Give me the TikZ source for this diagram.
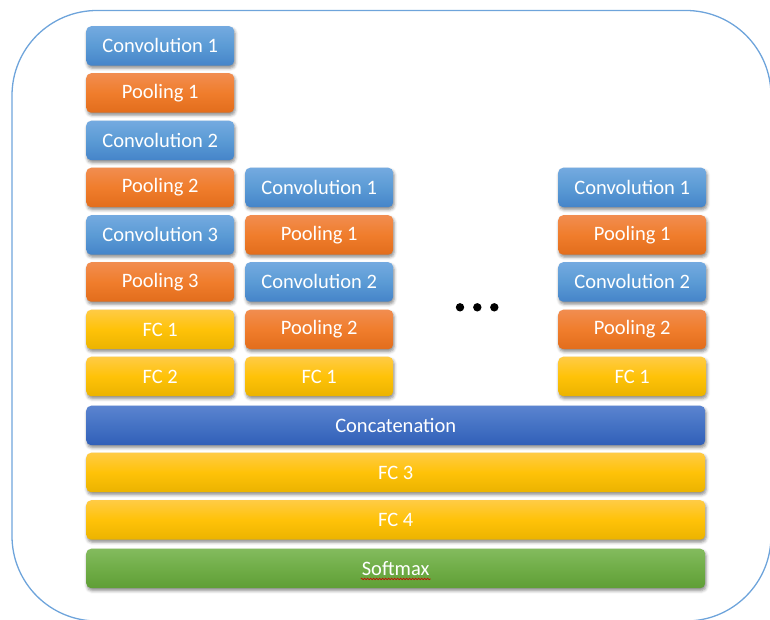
\documentclass[tikz,border=0pt]{standalone}
\usepackage{fontspec}
\setmainfont{Carlito}
\usetikzlibrary{shadows.blur,decorations.pathmorphing}

\definecolor{convtop}{HTML}{74AAE0}
\definecolor{convmid}{HTML}{5B9BD5}
\definecolor{convbot}{HTML}{4584C9}
\definecolor{pooltop}{HTML}{F18D50}
\definecolor{poolmid}{HTML}{F07D2C}
\definecolor{poolbot}{HTML}{E26D1C}
\definecolor{fctop}{HTML}{FFCB45}
\definecolor{fcmid}{HTML}{FFC208}
\definecolor{fcbot}{HTML}{EBB300}
\definecolor{cattop}{HTML}{5B84D0}
\definecolor{catmid}{HTML}{4472C4}
\definecolor{catbot}{HTML}{315FB8}
\definecolor{smtop}{HTML}{83BB5E}
\definecolor{smmid}{HTML}{70AD47}
\definecolor{smbot}{HTML}{5F9E36}
\definecolor{framecol}{HTML}{6EA4DB}

\tikzset{
  layer/.style={rounded corners=5pt, minimum height=39.5pt, inner sep=0pt,
    anchor=north west, text=white, font=\fontsize{20.5}{24}\selectfont,
    blur shadow={shadow xshift=1pt, shadow yshift=-2.5pt,
      shadow blur radius=3pt, shadow opacity=45}},
  narrow/.style={layer, minimum width=148pt},
  wide/.style={layer, minimum width=619pt},
  conv/.style={top color=convtop, bottom color=convbot, middle color=convmid},
  pool/.style={top color=pooltop, bottom color=poolbot, middle color=poolmid},
  fc/.style={top color=fctop, bottom color=fcbot, middle color=fcmid},
  concat/.style={top color=cattop, bottom color=catbot, middle color=catmid},
  soft/.style={top color=smtop, bottom color=smbot, middle color=smmid},
  dot/.style={fill=black},
}

\begin{document}
\begin{tikzpicture}[x=1pt, y=-1pt]
\useasboundingbox (0,0) rectangle (770,620);
\clip (0,0) rectangle (770,620);

% outer frame
\draw[framecol, line width=1.3pt, rounded corners=85pt] (12,10.5) rectangle (771,621);

% first branch
\node[narrow, conv] (aconv1) at (86,26)    {Convolution 1};
\node[narrow, pool] (apool1) at (86,73)    {Pooling 1};
\node[narrow, conv] (aconv2) at (86,120.5) {Convolution 2};
\node[narrow, pool] (apool2) at (86,167.5) {Pooling 2};
\node[narrow, conv] (aconv3) at (86,215)   {Convolution 3};
\node[narrow, pool] (apool3) at (86,262)   {Pooling 3};
\node[narrow, fc]   (afc1)   at (86,309.5) {FC 1};
\node[narrow, fc]   (afc2)   at (86,356.5) {FC 2};

% second branch
\node[narrow, conv] (bconv1) at (245,167.5) {Convolution 1};
\node[narrow, pool] (bpool1) at (245,215)   {Pooling 1};
\node[narrow, conv] (bconv2) at (245,262)   {Convolution 2};
\node[narrow, pool] (bpool2) at (245,309.5) {Pooling 2};
\node[narrow, fc]   (bfc1)   at (245,356.5) {FC 1};

% last branch
\node[narrow, conv] (nconv1) at (558,167.5) {Convolution 1};
\node[narrow, pool] (npool1) at (558,215)   {Pooling 1};
\node[narrow, conv] (nconv2) at (558,262)   {Convolution 2};
\node[narrow, pool] (npool2) at (558,309.5) {Pooling 2};
\node[narrow, fc]   (nfc1)   at (558,356.5) {FC 1};

% ellipsis between branches
\fill[dot] (460,307.3) circle (4.2pt);
\fill[dot] (477.3,307.3) circle (4.2pt);
\fill[dot] (494.3,307.3) circle (4.2pt);

% shared layers
\node[wide, concat] (cat) at (86,405.5) {Concatenation};
\node[wide, fc]     (fc3) at (86,452.5) {FC 3};
\node[wide, fc]     (fc4) at (86,500)   {FC 4};
\node[wide, soft]   (sm)  at (86,548.5) {Softmax};

% spell-check squiggle under the softmax label
\draw[red!80!black, line width=0.6pt, decorate,
      decoration={snake, amplitude=0.8pt, segment length=3pt}]
  ([xshift=-35pt, yshift=-10.5pt]sm.center) -- ([xshift=35pt, yshift=-10.5pt]sm.center);
\end{tikzpicture}
\end{document}
